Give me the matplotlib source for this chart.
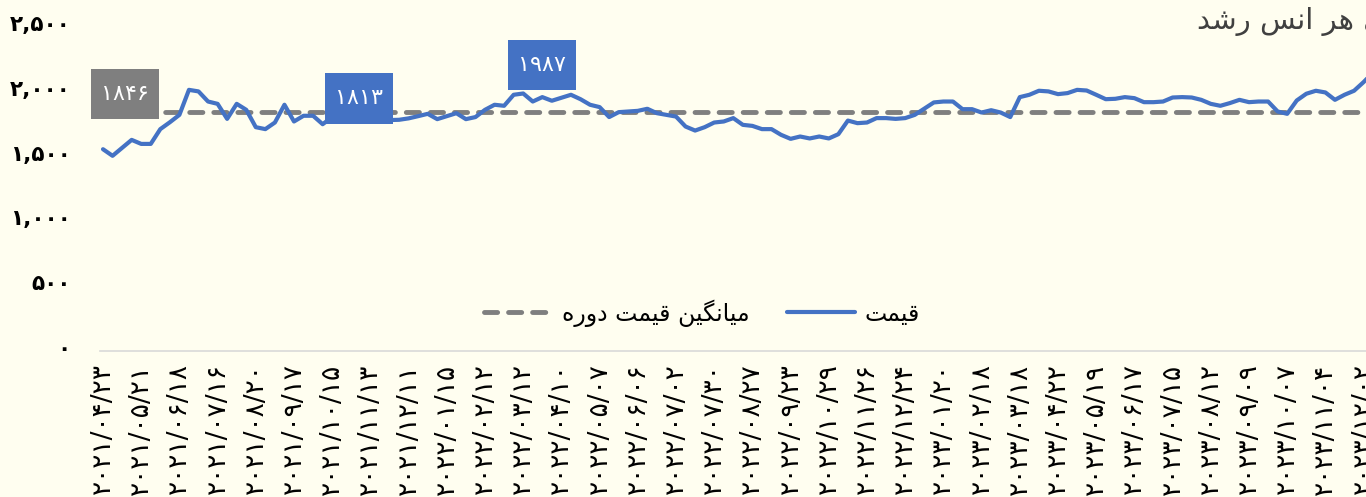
import matplotlib
matplotlib.use('Agg')
import matplotlib.pyplot as plt
from matplotlib.path import Path
from matplotlib.transforms import ScaledTranslation

# weekly gold price (USD / ounce)
price = [1557, 1506, 1567, 1629, 1598, 1598, 1712, 1765, 1822, 2015,
         2003, 1925, 1907, 1791, 1907, 1861, 1727, 1712, 1763, 1900,
         1771, 1815, 1815, 1750, 1805, 1813, 1800, 1813, 1795, 1785,
         1782, 1784, 1795, 1812, 1830, 1789, 1812, 1835, 1789, 1805,
         1861, 1900, 1892, 1977, 1987, 1925, 1959, 1931, 1954, 1977,
         1943, 1900, 1882, 1805, 1843, 1848, 1853, 1869, 1835, 1822,
         1809, 1732, 1701, 1727, 1763, 1771, 1797, 1745, 1737, 1712,
         1712, 1668, 1637, 1655, 1640, 1655, 1640, 1673, 1778, 1758,
         1763, 1797, 1797, 1791, 1797, 1822, 1870, 1918, 1925, 1925,
         1866, 1866, 1840, 1858, 1840, 1805, 1959, 1977, 2008, 2003,
         1982, 1990, 2015, 2010, 1977, 1943, 1946, 1959, 1951, 1920,
         1920, 1925, 1956, 1959, 1956, 1938, 1907, 1892, 1913, 1938,
         1920, 1925, 1925, 1848, 1830, 1933, 1985, 2008, 1995, 1938,
         1977, 2008, 2075, 2150]
avg_price = 1846

# one date label every 4 weeks
dates = ['2021/04/23', '2021/05/21', '2021/06/18', '2021/07/16', '2021/08/20',
         '2021/09/17', '2021/10/15', '2021/11/13', '2021/12/11', '2022/01/15',
         '2022/02/12', '2022/03/12', '2022/04/10', '2022/05/07', '2022/06/06',
         '2022/07/02', '2022/07/30', '2022/08/27', '2022/09/23', '2022/10/29',
         '2022/11/26', '2022/12/24', '2023/01/20', '2023/02/18', '2023/03/18',
         '2023/04/22', '2023/05/19', '2023/06/17', '2023/07/15', '2023/08/12',
         '2023/09/09', '2023/10/07', '2023/11/04', '2023/12/02']
yticks = [0, 500, 1000, 1500, 2000, 2500]

# (index, value shown) of the boxed labels
labels_blue = [(27, 1813), (44, 1987)]

title = 'به ازای هر انس رشد'
leg_price = 'قیمت'
leg_avg = 'میانگین قیمت دوره'

BLUE = '#4472C4'
GRAY = '#7F7F7F'
BG = '#FFFEF0'

FA_DIGITS = str.maketrans('0123456789', '۰۱۲۳۴۵۶۷۸۹')

FORMS = {
    'ا': ('\uFE8D', '\uFE8E', None, None),
    'ب': ('\uFE8F', '\uFE90', '\uFE91', '\uFE92'),
    'ت': ('\uFE95', '\uFE96', '\uFE97', '\uFE98'),
    'د': ('\uFEA9', '\uFEAA', None, None),
    'ر': ('\uFEAD', '\uFEAE', None, None),
    'ز': ('\uFEAF', '\uFEB0', None, None),
    'س': ('\uFEB1', '\uFEB2', '\uFEB3', '\uFEB4'),
    'ش': ('\uFEB5', '\uFEB6', '\uFEB7', '\uFEB8'),
    'ق': ('\uFED5', '\uFED6', '\uFED7', '\uFED8'),
    'م': ('\uFEE1', '\uFEE2', '\uFEE3', '\uFEE4'),
    'ن': ('\uFEE5', '\uFEE6', '\uFEE7', '\uFEE8'),
    'ه': ('\uFEE9', '\uFEEA', '\uFEEB', '\uFEEC'),
    'و': ('\uFEED', '\uFEEE', None, None),
    'ی': ('\uFBFC', '\uFBFD', '\uFBFE', '\uFBFF'),
    'گ': ('\uFB92', '\uFB93', '\uFB94', '\uFB95'),
}


def shape(text):
    # join arabic letters and flip to visual order (no bidi in matplotlib)
    out = []
    for k, ch in enumerate(text):
        if ch not in FORMS:
            out.append(ch)
            continue
        iso, fin, ini, med = FORMS[ch]
        prev = text[k - 1] if k > 0 else ''
        nxt = text[k + 1] if k + 1 < len(text) else ''
        jp = prev in FORMS and FORMS[prev][2] is not None
        jn = nxt in FORMS and ini is not None
        if jp and jn:
            out.append(med)
        elif jp:
            out.append(fin)
        elif jn:
            out.append(ini)
        else:
            out.append(iso)
    return ''.join(reversed(out))


def fa(s):
    return str(s).translate(FA_DIGITS)


def tall_box(x0, y0, width, height, mutation_size):
    # square box, more padding top/bottom than left/right
    px, py = 0.45 * mutation_size, 0.68 * mutation_size
    x0, y0 = x0 - px, y0 - py
    x1, y1 = x0 + width + 2 * px, y0 + height + 2 * py
    return Path([(x0, y0), (x1, y0), (x1, y1), (x0, y1), (x0, y0)], closed=True)


def main():
    plt.rcParams['font.family'] = ['DejaVu Sans']
    W, H = 1366, 497
    fig = plt.figure(figsize=(W / 100, H / 100), dpi=100, facecolor=BG)

    x0, x_right, y0, y_top = 100, 1366, 351, 27
    ax = fig.add_axes([x0 / W, (H - y0) / H, (x_right - x0) / W, (y0 - y_top) / H])
    ax.set_facecolor(BG)

    step = 9.55
    first = 103
    idx = list(range(len(price)))
    ax.set_xlim((x0 - first) / step, (x_right - first) / step)
    ax.set_ylim(0, 2500)

    avg_line, = ax.plot([-1, len(price)], [avg_price, avg_price], color=GRAY,
                        lw=3.5, dashes=(2.7, 2.25), dash_capstyle='round', zorder=2)
    price_line, = ax.plot(idx, price, color=BLUE, lw=3.0, solid_joinstyle='round',
                          solid_capstyle='round', zorder=3)

    for s in ['top', 'right', 'left']:
        ax.spines[s].set_visible(False)
    ax.spines['bottom'].set_color('#D9D9D9')
    ax.spines['bottom'].set_linewidth(1.2)

    ax.set_yticks(yticks)
    ax.set_yticklabels([fa(f'{v:,}') for v in yticks], fontsize=15.5, fontweight='bold')
    ax.set_xticks(list(range(0, 4 * len(dates), 4)))
    ax.set_xticklabels([fa(d) for d in dates], rotation=90, fontsize=19)
    ax.tick_params(axis='y', length=0, pad=21)
    ax.tick_params(axis='x', length=0, pad=9)
    lift = ScaledTranslation(0, 4 / 100, fig.dpi_scale_trans)
    for t in ax.get_yticklabels():
        t.set_transform(t.get_transform() + lift)

    box = dict(boxstyle=tall_box, ec='none')
    ax.annotate(fa(avg_price), xy=(0, avg_price), xytext=(16, 13),
                textcoords='offset points', ha='center', va='center',
                color='white', fontsize=16, bbox=dict(box, fc=GRAY), zorder=5)
    for (i, v), dy in zip(labels_blue, [12.7, 20.3]):
        dx = -1 if i == 27 else 13.5
        ax.annotate(fa(v), xy=(i, price[i]), xytext=(dx, dy),
                    textcoords='offset points', ha='center', va='center',
                    color='white', fontsize=16, bbox=dict(box, fc=BLUE), zorder=5)

    ax.legend([avg_line, price_line], [shape(leg_avg), shape(leg_price)], ncol=2,
              loc='center', bbox_to_anchor=(702 / W, (H - 313) / H),
              bbox_transform=fig.transFigure, frameon=False, fontsize=17,
              handlelength=2.9, handletextpad=0.4, columnspacing=1.6)

    fig.text(1197 / W, (H - 22) / H, shape(title), ha='left', va='center',
             fontsize=21, color='#404040')

    fig.savefig('out.png', dpi=100, facecolor=BG)


if __name__ == "__main__":
    main()
